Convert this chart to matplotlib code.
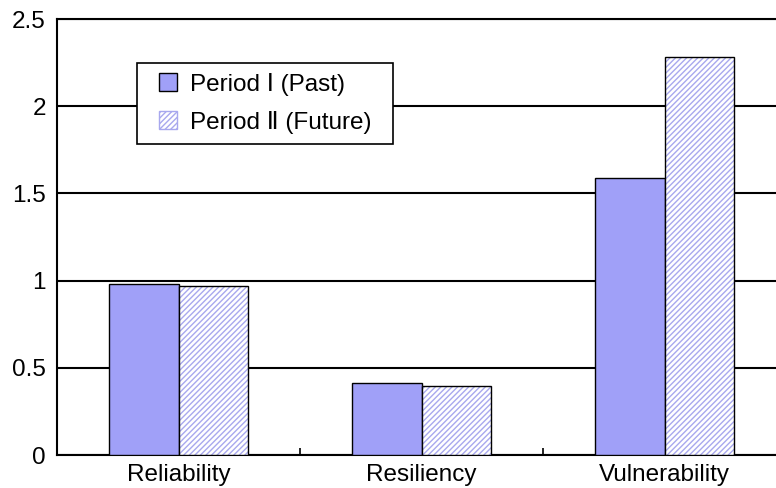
import matplotlib
matplotlib.use('Agg')
import matplotlib.pyplot as plt
from matplotlib.patches import Patch, Rectangle
from matplotlib.legend_handler import HandlerPatch
import numpy

plt.rcParams['font.family'] = ['Liberation Sans', 'DejaVu Sans']
plt.rcParams['hatch.linewidth'] = 1.0

categories = ['Reliability', 'Resiliency', 'Vulnerability']
past = [0.98, 0.41, 1.59]
future = [0.97, 0.395, 2.28]
labels = ['Period \u2160 (Past)', 'Period \u2161 (Future)']

purple = '#a0a0f8'
hatch_col = '#a8a8ee'

fig = plt.figure(figsize=(7.76, 4.88), dpi=100)
# axes runs past the right edge, as in the original crop
ax = fig.add_axes([57 / 776, (488 - 455) / 488, 729 / 776, 436 / 488])

x = numpy.arange(len(categories))
w = 0.288
ax.bar(x - w / 2, past, w, color=purple, edgecolor='black', linewidth=1.0, zorder=3)
# hatch takes the edge colour, so draw the hatch first and the black outline on top
ax.bar(x + w / 2, future, w, color='white', edgecolor=hatch_col, linewidth=0, hatch='//////', zorder=3)
ax.bar(x + w / 2, future, w, fill=False, edgecolor='black', linewidth=1.0, zorder=4)

ax.set_xlim(-0.5, 2.5)
ax.set_ylim(0, 2.5)
ax.set_yticks([0, 0.5, 1, 1.5, 2, 2.5])
ax.set_yticklabels(['0', '0.5', '1', '1.5', '2', '2.5'])
ax.set_xticks(x)
ax.set_xticklabels(categories)
ax.set_xticks([0.5, 1.5], minor=True)
ax.tick_params(axis='y', length=0, pad=8, labelsize=17.5)
ax.tick_params(axis='x', which='major', length=0, pad=6.5, labelsize=17.5)
ax.tick_params(axis='x', which='minor', direction='in', length=5, width=1.2)

ax.yaxis.grid(True, color='black', linewidth=1.5, zorder=1)
ax.set_axisbelow(True)
for s in ['left', 'bottom', 'top']:
    ax.spines[s].set_linewidth(1.5)
ax.spines['right'].set_visible(False)


def square(legend, orig_handle, xdescent, ydescent, width, height, fontsize):
    # small square at the right end of the handle box
    s = height
    return Rectangle((width - s - xdescent, -ydescent), s, s)


handles = [Patch(facecolor=purple, edgecolor='black', linewidth=1.0),
           Patch(facecolor='white', edgecolor=hatch_col, hatch='//////', linewidth=1.0)]
leg = ax.legend(handles, labels, loc='upper left',
                bbox_to_anchor=(80 / 729, (455 - 143) / 436, 256 / 729, 80 / 436),
                mode='expand', borderaxespad=0,
                fontsize=17.5, fancybox=False, framealpha=1, edgecolor='black',
                handlelength=1.25, handleheight=0.75, handletextpad=0.53, borderpad=0.4,
                labelspacing=0.62, handler_map={Patch: HandlerPatch(patch_func=square)})
leg.get_frame().set_linewidth(1.2)
leg.set_zorder(5)

plt.savefig('out.png', dpi=100)
